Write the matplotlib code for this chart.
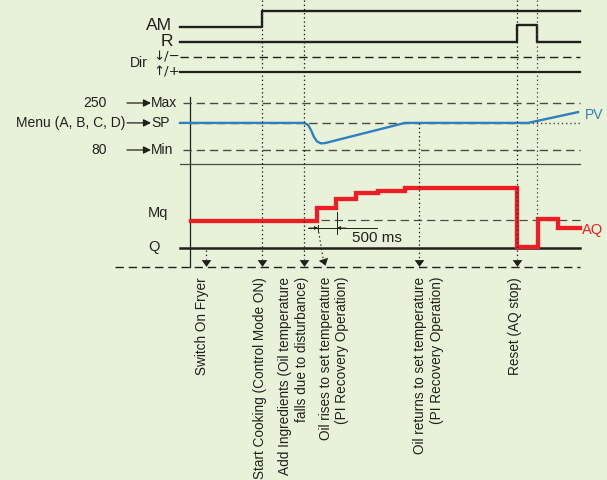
import matplotlib
matplotlib.use('Agg')
import matplotlib.pyplot as plt
from matplotlib.path import Path
from matplotlib.markers import MarkerStyle
from matplotlib.transforms import Affine2D

plt.rcParams['font.family'] = ['Liberation Sans', 'DejaVu Sans']
plt.rcParams['lines.scale_dashes'] = False

# shared time axis of the diagram (arbitrary units, same for every row)
t_start, t_end = 180, 580

# digital inputs: edge times and levels (0 = low, 1 = high)
am_t = [180, 262, 580]
am_v = [0, 1, 1]
r_t = [180, 517, 537, 580]
r_v = [0, 1, 0, 0]

# analog range, set point and process value (temperature)
pv_max, pv_min = 250, 80
sp_value = 178
pv_t = [180, 304, 308, 311, 314, 317, 321, 325, 405, 528, 578]
pv_v = [178, 178, 171, 152, 127, 111, 104, 105, 178, 178, 217]

# AQ output in units of Mq (Q = 0, Mq = 1)
aq_t = [191, 317, 336, 356, 378, 405, 517, 538, 558, 580]
aq_v = [0.97, 1.42, 1.75, 1.98, 2.07, 2.16, 0.02, 1.04, 0.71]

# events along the bottom
event_t = [206, 262, 304, 419, 517]
event_top = ['Q', 'top', 'top', 'SP', 'top']
event_labels = [
    'Switch On Fryer',
    'Start Cooking (Control Mode ON)',
    'Add Ingredients (Oil temperature\nfalls due to disturbance)',
    'Oil rises to set temperature\n(PI Recovery Operation)',
    'Oil returns to set temperature\n(PI Recovery Operation)',
    'Reset (AQ stop)',
]
label_t = [202, 260, 293.5, 334, 428.5, 515]
recovery_t = (317, 323)   # slanted event: from the first AQ step
reset_end_t = 537

# layout rows (pixels from top)
AM_LO, AM_HI = 27, 11
R_LO, R_HI = 42, 25
DIR_DN, DIR_UP = 57, 72
MAX_Y, MIN_Y = 103, 150
SEP_Y = 164
MQ_Y, Q_Y = 220, 247.5
BASE_Y = 267
AXIS_X = 189.5

BLACK = '#231f20'
GRAY = '#4a4a4a'
BLUE = '#2f80c3'
RED = '#ee1d23'
BG = '#e7f2d8'


def y_dig(v, lo, hi):
    return [lo + (hi - lo) * x for x in v]


def y_pv(temp):
    return MAX_Y + (pv_max - temp) * (MIN_Y - MAX_Y) / (pv_max - pv_min)


def y_aq(v):
    return Q_Y - v * (Q_Y - MQ_Y)


fig = plt.figure(figsize=(6.07, 4.80), dpi=100)
fig.patch.set_facecolor(BG)
ax = fig.add_axes([0, 0, 1, 1])
ax.set_xlim(0, 607)
ax.set_ylim(480, 0)
ax.axis('off')

dash = (0, (6, 3.5))
dot = (0, (1, 2))

# digital rows
ax.step(am_t, y_dig(am_v, AM_LO, AM_HI), where='post', color=BLACK, lw=1.7)
ax.step(r_t, y_dig(r_v, R_LO, R_HI), where='post', color=BLACK, lw=1.7)
ax.plot([t_start, t_end], [DIR_DN, DIR_DN], color=BLACK, lw=1, ls=dash)
ax.plot([t_start, t_end], [DIR_UP, DIR_UP], color=BLACK, lw=1.6)

# analog rows
ax.plot([AXIS_X, AXIS_X], [97, BASE_Y], color=BLACK, lw=0.9)
ax.plot([183, t_end], [y_pv(pv_max)] * 2, color=GRAY, lw=1, ls=dash)
ax.plot([183, t_end], [y_pv(pv_min)] * 2, color=GRAY, lw=1, ls=dash)
ax.plot([AXIS_X, pv_t[-2]], [y_pv(sp_value)] * 2, color=GRAY, lw=1, ls=dash)
ax.plot([pv_t[-2], t_end], [y_pv(sp_value)] * 2, color=GRAY, lw=1, ls=dot)
ax.plot([t_start, t_end], [SEP_Y, SEP_Y], color=GRAY, lw=0.9)
ax.plot(pv_t, [y_pv(v) for v in pv_v], color=BLUE, lw=1.7)

# output row
ax.plot([recovery_t[0] + 4, t_end], [y_aq(1.0)] * 2, color=GRAY, lw=0.9, ls=dash)
ax.plot([t_start, t_end], [Q_Y, Q_Y], color=BLACK, lw=1.8)
ax.step(aq_t, [y_aq(v) for v in aq_v + aq_v[-1:]], where='post',
        color=RED, lw=3.1, solid_joinstyle='miter')
ax.plot([115, t_end], [BASE_Y, BASE_Y], color=BLACK, lw=1, ls=dash)

# 500 ms dimension
dim_y = 228
ax.plot([308, 377], [dim_y, dim_y], color=BLACK, lw=0.7)
ax.plot([aq_t[2] + 1, aq_t[2] + 1], [212, 234], color=BLACK, lw=0.7)
ax.plot([aq_t[1] + 1, aq_t[1] + 1], [225, 231], color=BLACK, lw=0.7)
for a, b in [(309, aq_t[1] + 1), (346, aq_t[2] + 1)]:
    ax.annotate('', xy=(b, dim_y), xytext=(a, dim_y),
                arrowprops=dict(arrowstyle='-|>', color=BLACK, lw=0.6,
                                mutation_scale=5, shrinkA=0, shrinkB=0))
ax.text(352, 238, '500 ms', fontsize=11, color=BLACK, va='center', ha='left')

# event markers
tri = Path([(-1, 0.7), (1, 0.7), (0, -0.7), (-1, 0.7)])
tops = {'top': 0, 'Q': Q_Y + 2, 'SP': y_pv(sp_value)}
for t, top in zip(event_t, event_top):
    ax.plot([t, t], [tops[top], 259], color=BLACK, lw=0.9, ls=dot)
    ax.plot([t], [262.5], marker=tri, ms=7, color=BLACK, mew=0)
ax.plot([reset_end_t, reset_end_t], [0, y_aq(1.04)], color=GRAY, lw=0.9, ls=dot)
ax.plot([recovery_t[0] + 1, recovery_t[1]], [dim_y, 258], color=BLACK, lw=0.9, ls=dot)
ax.plot([recovery_t[1] + 0.5], [261.5],
        marker=MarkerStyle(tri, transform=Affine2D().rotate_deg(18)),
        ms=7, color=BLACK, mew=0)

for t, lab in zip(label_t, event_labels):
    ax.text(t, 277, lab, rotation=90, ha='center', va='top',
            multialignment='right', fontsize=9.8, color=BLACK)

# left labels
ax.text(172, 25, 'AM', fontsize=12.5, ha='right', va='center', color=BLACK)
ax.text(173, 42, 'R', fontsize=12.5, ha='right', va='center', color=BLACK)
ax.text(148, 63, 'Dir', fontsize=10, ha='right', va='center', color=BLACK)
ax.text(153, 57, '\u2193/\u2212', fontsize=9.5, ha='left', va='center', color=BLACK,
        family=['DejaVu Sans'])
ax.text(153, 72, '\u2191/+', fontsize=9.5, ha='left', va='center', color=BLACK,
        family=['DejaVu Sans'])

for val, name, temp in [('250', 'Max', pv_max), ('Menu (A, B, C, D)', 'SP', sp_value),
                        ('80', 'Min', pv_min)]:
    y = y_pv(temp)
    right = 107 if name != 'SP' else 125
    ax.text(right, y, val, fontsize=10, ha='right', va='center', color=BLACK)
    ax.annotate('', xy=(151, y), xytext=(127, y),
                arrowprops=dict(arrowstyle='-|>', color=BLACK, lw=0.9,
                                mutation_scale=11, shrinkA=0, shrinkB=0))
    ax.text(151, y, name, fontsize=10, ha='left', va='center', color=BLACK)

ax.text(158, 213, 'Mq', fontsize=10.5, ha='center', va='center', color=BLACK)
ax.text(154, 247, 'Q', fontsize=10.5, ha='center', va='center', color=BLACK)
ax.text(585, 115, 'PV', fontsize=10, ha='left', va='center', color=BLUE)
ax.text(582, 230, 'AQ', fontsize=10.5, ha='left', va='center', color=RED)

fig.savefig('out.png', dpi=100, facecolor=BG)
